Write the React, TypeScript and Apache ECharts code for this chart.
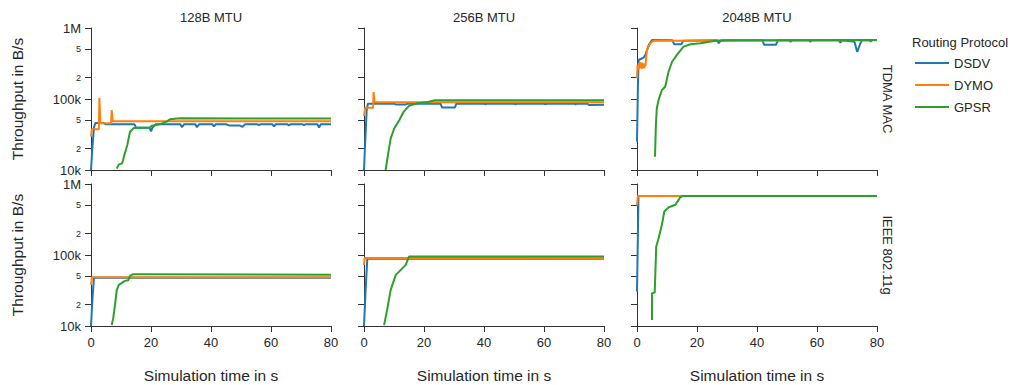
import React, { useEffect, useRef } from 'react';
import * as echarts from 'echarts';

const columnTitles = ['128B MTU', '256B MTU', '2048B MTU'];
const rowTitles = ['TDMA MAC', 'IEEE 802.11g'];
const protocols = ['DSDV', 'DYMO', 'GPSR'];
const protocolColors = ['#1f77b4', '#ff7f0e', '#2ca02c'];
const yTickValues = [10000, 20000, 50000, 100000, 200000, 500000, 1000000];
const yTickLabels = ['10k', '2', '5', '100k', '2', '5', '1M'];
const yTickMajor = [true, false, false, true, false, false, true];

// [time in s, throughput in B/s]
const tdma128Dsdv = [[0,10000],[0.5,22000],[1.0,40000],[1.5,46000],[4,46000],[5,44000],[14.5,44000],[15,39500],[19.5,39500],[20,35000],[20.5,39500],[21.5,44000],[29.8,44000],[30.3,40000],[31,44000],[34.8,44000],[35.3,40000],[36,44000],[40.5,44000],[41,41000],[41.5,44000],[45,44000],[46,42500],[49.5,42500],[50.5,40500],[51.3,44000],[55.5,44000],[56,43000],[56.5,44000],[60.5,44000],[61,41000],[61.5,44000],[65.5,44000],[66,42500],[66.5,44000],[70.5,44000],[71,43000],[71.5,44000],[75.5,44000],[76,39500],[76.6,44000],[80,44000]];
const tdma128Dymo = [[0,29500],[0.3,37500],[2.6,37500],[2.8,104000],[3.1,45500],[6.7,45500],[6.9,70000],[7.2,48500],[80,48500]];
const tdma128Gpsr = [[8.6,10500],[9.3,12000],[10.4,12400],[11.1,16200],[12.1,22500],[13,34500],[14.1,38600],[15.7,39500],[19.6,39500],[20.2,42000],[21.9,43000],[23.5,45000],[25.2,48000],[26.3,51800],[29.7,53500],[80,53000]];

const tdma256Dsdv = [[0,10000],[0.4,25000],[0.9,70000],[1.3,86000],[10,86000],[10.5,84000],[14,84000],[14.5,86000],[25.5,86000],[26,76000],[30.3,76000],[30.8,86000],[40,86000],[40.5,84500],[41,86000],[50,86000],[50.5,84000],[51,86000],[60,86000],[60.5,84000],[61,86000],[70,86000],[70.5,84500],[71,86000],[74.5,86000],[75,82000],[80,83000]];
const tdma256Dymo = [[0,58000],[0.4,75000],[3.0,75000],[3.2,125000],[3.5,90000],[80,90000]];
const tdma256Gpsr = [[7.2,10000],[7.9,15400],[8.9,27900],[10.1,38600],[11.8,50500],[13.2,66000],[15,80000],[17.8,87000],[21.3,91000],[23.6,96000],[80,96000]];

const tdma2048Dsdv = [[0,25000],[0.3,150000],[0.55,354000],[2.2,383000],[2.8,418000],[3.9,575000],[5,676000],[11.8,670000],[12.4,590000],[14.8,590000],[15.5,660000],[26.8,670000],[27.2,610000],[28,670000],[41.8,670000],[42.4,580000],[46.3,580000],[47,670000],[50.8,670000],[51.2,640000],[51.7,670000],[57.3,670000],[57.8,640000],[58.3,670000],[67.3,670000],[67.8,620000],[68.3,670000],[72.5,640000],[73.4,460000],[74.4,600000],[75,670000],[77.6,670000],[77.9,640000],[78.3,675000],[80,675000]];
const tdma2048Dymo = [[0,195000],[0.2,300000],[0.4,260000],[0.6,320000],[0.8,270000],[1.0,330000],[1.2,280000],[1.4,310000],[1.6,265000],[1.8,325000],[2.0,275000],[2.2,315000],[2.4,270000],[2.6,300000],[2.8,290000],[3.3,490000],[4.4,610000],[5.5,660000],[80,670000]];
const tdma2048Gpsr = [[6.0,15400],[6.3,43000],[6.6,74000],[7.2,97000],[8.3,134000],[9.4,149000],[10.5,242000],[11.7,335000],[13.3,418000],[15.5,546000],[17.8,590000],[21.1,612000],[25.6,658000],[31.1,670000],[80,680000]];

const wifi128Dsdv = [[0,10000],[0.5,25000],[1.0,47800],[80,47800]];
const wifi128Dymo = [[0,38000],[0.3,48500],[80,48500]];
const wifi128Gpsr = [[6.9,10300],[7.4,12800],[8.0,19800],[8.6,32200],[9.3,37900],[11.3,43200],[12.4,44000],[13,50800],[14.1,53600],[80,52700]];

const wifi256Dsdv = [[0,10000],[0.5,30000],[1.1,88500],[80,88800]];
const wifi256Dymo = [[0,72600],[0.2,91000],[80,90000]];
const wifi256Gpsr = [[6.7,10300],[7.8,17800],[8.9,32200],[10.6,52500],[11.7,58400],[13.9,72600],[15,95000],[80,95000]];

const wifi2048Dsdv = [[0,30500],[0.5,680000],[80,680000]];
const wifi2048Dymo = [[0,500000],[0.3,680000],[80,680000]];
const wifi2048Gpsr = [[5,12100],[5,29000],[5.9,29500],[6.1,52500],[6.4,131000],[7.2,172000],[8.3,266000],[9.1,410000],[10.6,470000],[12.8,510000],[14.4,648000],[15.3,680000],[80,680000]];

const panelData = [
  [tdma128Dsdv, tdma128Dymo, tdma128Gpsr],
  [tdma256Dsdv, tdma256Dymo, tdma256Gpsr],
  [tdma2048Dsdv, tdma2048Dymo, tdma2048Gpsr],
  [wifi128Dsdv, wifi128Dymo, wifi128Gpsr],
  [wifi256Dsdv, wifi256Dymo, wifi256Gpsr],
  [wifi2048Dsdv, wifi2048Dymo, wifi2048Gpsr],
];

const FONT = '"Liberation Sans", Arial, Helvetica, sans-serif';
const TEXT = '#262626';
const AXIS = '#333333';

function buildOption() {
  const gridLefts = [91, 364, 637];
  const gridTops = [28, 184];
  const yLog = yTickValues.map((v) => Math.log10(v));
  const grid: any[] = [];
  const xAxis: any[] = [];
  const yAxis: any[] = [];
  const series: any[] = [];
  for (let r = 0; r < 2; r++) {
    for (let c = 0; c < 3; c++) {
      const i = r * 3 + c;
      grid.push({ left: gridLefts[c], top: gridTops[r], width: 240, height: 142 });
      xAxis.push({
        type: 'value', gridIndex: i, min: 0, max: 80, interval: 20,
        axisLine: { show: true, onZero: false, lineStyle: { color: AXIS, width: 1 } },
        axisTick: { show: true, length: 6, lineStyle: { color: AXIS } },
        axisLabel: { show: r === 1, fontSize: 13, color: TEXT, margin: 10, fontFamily: FONT },
        splitLine: { show: false },
        name: r === 1 ? 'Simulation time in s' : '',
        nameLocation: 'middle', nameGap: 41,
        nameTextStyle: { fontSize: 15.5, color: TEXT, fontFamily: FONT },
      });
      yAxis.push({
        type: 'value', gridIndex: i, min: 4, max: 6,
        axisLine: { show: true, onZero: false, lineStyle: { color: AXIS, width: 1 } },
        axisTick: { show: true, length: 6, customValues: yLog, lineStyle: { color: AXIS } },
        axisLabel: {
          show: c === 0, customValues: yLog, margin: 10, color: TEXT, fontFamily: FONT,
          formatter: (val: number) => {
            const idx = yLog.findIndex((l) => Math.abs(l - val) < 1e-6);
            if (idx < 0) return '';
            return yTickMajor[idx] ? '{maj|' + yTickLabels[idx] + '}' : '{min|' + yTickLabels[idx] + '}';
          },
          rich: {
            maj: { fontSize: 13, color: TEXT, fontFamily: FONT },
            min: { fontSize: 9, color: TEXT, fontFamily: FONT },
          },
        },
        splitLine: { show: false },
        name: c === 0 ? 'Throughput in B/s' : '',
        nameLocation: 'middle', nameGap: 66, nameRotate: 90,
        nameTextStyle: { fontSize: 15.5, color: TEXT, fontFamily: FONT },
      });
      panelData[i].forEach((arr, k) => {
        series.push({
          type: 'line', name: protocols[k], xAxisIndex: i, yAxisIndex: i,
          data: arr.map(([t, v]) => [t, Math.log10(v)]),
          showSymbol: false, symbol: 'none',
          lineStyle: { width: 2, color: protocolColors[k] },
          itemStyle: { color: protocolColors[k] },
          z: 2 + k,
        });
      });
    }
  }
  const graphic: any[] = [];
  columnTitles.forEach((t, c) => {
    graphic.push({
      type: 'text', x: gridLefts[c] + 120, y: 17,
      style: { text: t, fontSize: 13, fontFamily: FONT, fill: TEXT, align: 'center', verticalAlign: 'middle', textAlign: 'center', textVerticalAlign: 'middle' },
    });
  });
  rowTitles.forEach((t, r) => {
    graphic.push({
      type: 'text', x: 887, y: gridTops[r] + 71, rotation: -Math.PI / 2,
      style: { text: t, fontSize: 13, fontFamily: FONT, fill: TEXT, align: 'center', verticalAlign: 'middle', textAlign: 'center', textVerticalAlign: 'middle' },
    });
  });
  graphic.push({
    type: 'text', x: 912, y: 42,
    style: { text: 'Routing Protocol', fontSize: 13, fontFamily: FONT, fill: TEXT, align: 'left', verticalAlign: 'middle', textAlign: 'left', textVerticalAlign: 'middle' },
  });
  return {
    animation: false,
    textStyle: { fontFamily: FONT },
    grid, xAxis, yAxis, series, graphic,
    legend: {
      data: protocols, orient: 'vertical', left: 915, top: 55, padding: 0,
      icon: 'rect', itemWidth: 34, itemHeight: 2, itemGap: 6,
      textStyle: { fontSize: 13, lineHeight: 16, color: TEXT, fontFamily: FONT },
    },
  };
}

export default function App() {
  const ref = useRef<HTMLDivElement>(null);
  useEffect(() => {
    if (!ref.current) return;
    const chart = echarts.init(ref.current, null, { renderer: 'svg' });
    chart.setOption(buildOption() as any);
    return () => chart.dispose();
  }, []);
  return <div ref={ref} style={{ position: 'absolute', left: 0, top: 0, width: 1017, height: 385, background: '#fff' }} />;
}
